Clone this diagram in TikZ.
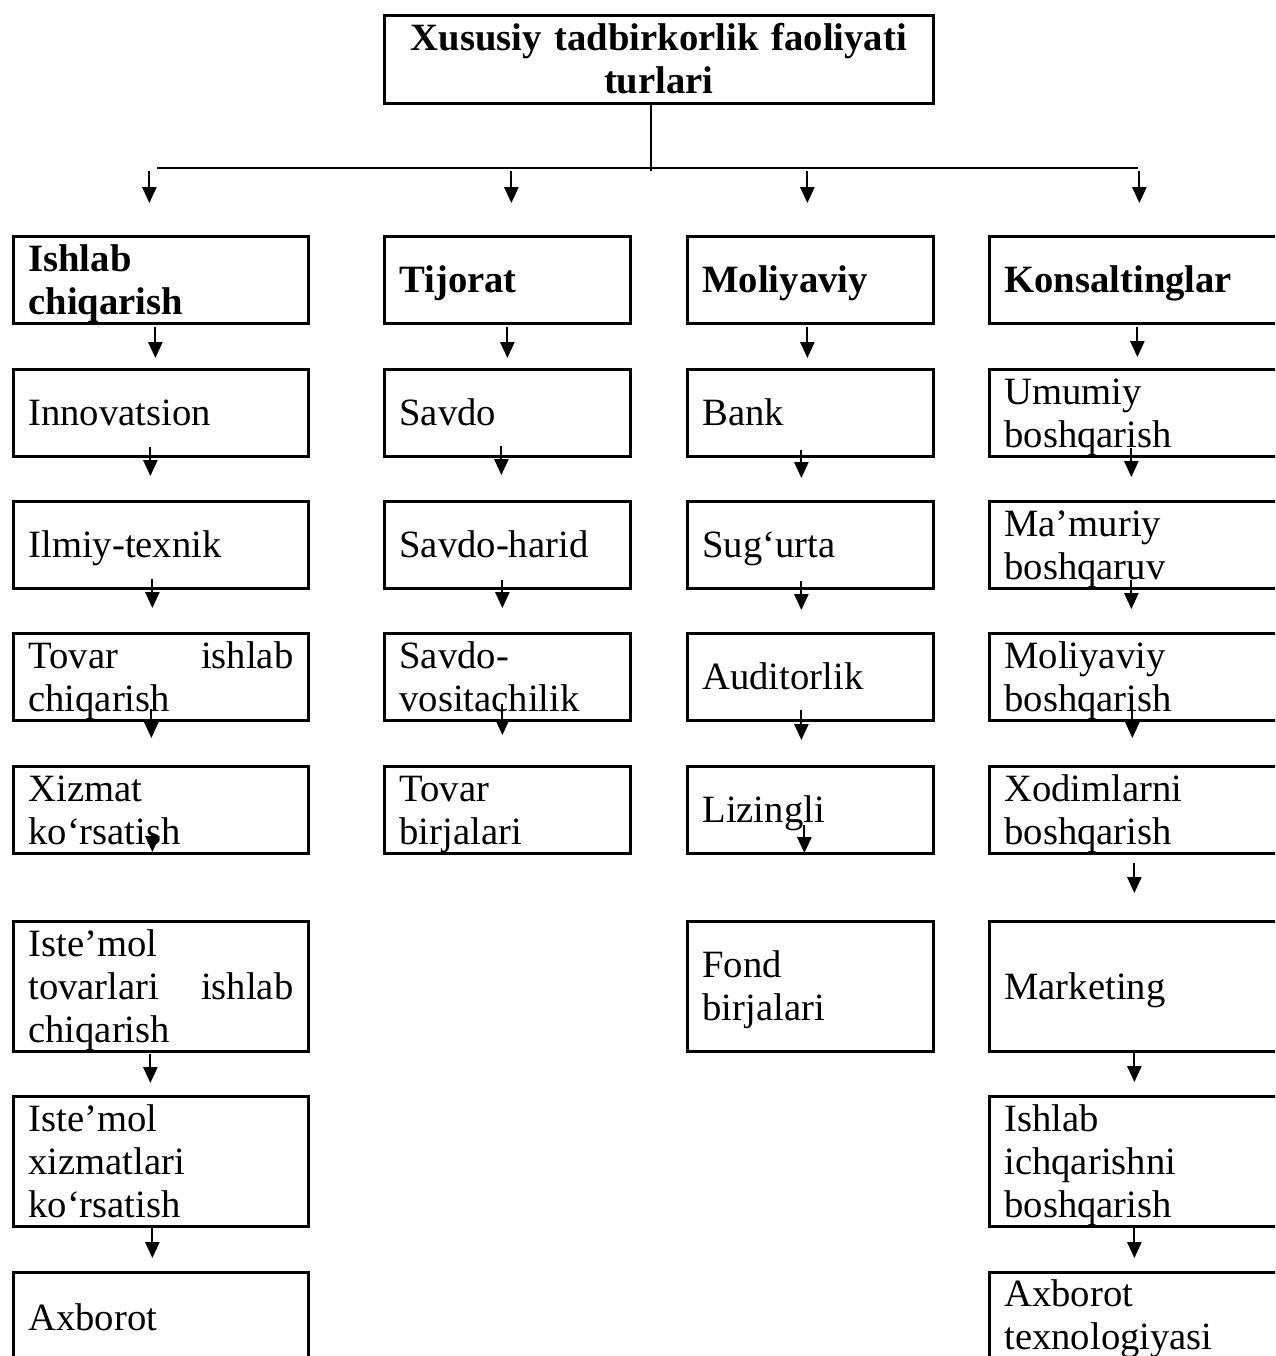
\documentclass[tikz,border=0pt]{standalone}
\usepackage{fontspec}
\setmainfont{Liberation Serif}
\usetikzlibrary{arrows.meta, calc, positioning}
\newcommand{\topstrut}{\rule{0pt}{19.4pt}}
\newcommand{\botstrut}{\rule[-5pt]{0pt}{0pt}}

\begin{document}
\begin{tikzpicture}[x=0.02cm, y=-0.02cm,
        box/.style={draw, line width=1.6pt, rectangle, anchor=north west, inner xsep=0.3cm, inner ysep=0pt,
            align=left, font=\fontsize{22}{24.5}\selectfont,
            execute at begin node=\topstrut, execute at end node=\botstrut},
        wbox/.style={box, minimum width=5.9cm, text width=5.3cm},
        nbox/.style={box, minimum width=4.92cm, text width=4.32cm},
        low/.style={minimum height=1.75cm},
        high/.style={minimum height=2.6cm},
        last/.style={minimum height=1.8cm},
        head/.style={font=\fontsize{22}{24.5}\selectfont\bfseries},
        arr/.style={line width=1.1pt, -{Triangle[length=9pt, width=8pt]}},
        bar/.style={line width=1.1pt}]
                    \useasboundingbox (0,0) rectangle (1275,1356);
                    \clip (0,0) rectangle (1275,1356);

                    \node[box, head, minimum width=10.98cm, text width=10.38cm, minimum height=1.76cm, align=center] (turlar) at (383, 14) {Xususiy tadbirkorlik faoliyati\\turlari};

                    % ishlab chiqarish
                    \node[wbox, low, head] (ishlab) at (12, 235) {Ishlab\\chiqarish};
                    \node[wbox, low] (innov) at (12, 368) {Innovatsion};
                    \node[wbox, low] (ilmiy) at (12, 500) {Ilmiy-texnik};
                    \node[wbox, low] (tovar) at (12, 632) {Tovar\hfill ishlab\\chiqarish};
                    \node[wbox, low] (xizmat) at (12, 765) {Xizmat\\ko‘rsatish};
                    \node[wbox, high] (isttov) at (12, 920) {Iste’mol\\tovarlari\hfill ishlab\\chiqarish};
                    \node[wbox, high] (istxiz) at (12, 1095) {Iste’mol\\xizmatlari\\ko‘rsatish};
                    \node[wbox, last] (axbA) at (12, 1271) {Axborot};

                    % tijorat
                    \node[nbox, low, head] (tijorat) at (383, 235) {Tijorat};
                    \node[nbox, low] (savdo) at (383, 368) {Savdo};
                    \node[nbox, low] (savharid) at (383, 500) {Savdo-harid};
                    \node[nbox, low] (savvos) at (383, 632) {Savdo-\\vositachilik};
                    \node[nbox, low] (birja) at (383, 765) {Tovar\\birjalari};

                    % moliyaviy
                    \node[nbox, low, head] (moliya) at (686, 235) {Moliyaviy};
                    \node[nbox, low] (bank) at (686, 368) {Bank};
                    \node[nbox, low] (sugurta) at (686, 500) {Sug‘urta};
                    \node[nbox, low] (audit) at (686, 632) {Auditorlik};
                    \node[nbox, low] (lizing) at (686, 765) {Lizingli};
                    \node[nbox, high] (fond) at (686, 920) {Fond\\birjalari};

                    % konsaltinglar
                    \node[wbox, low, head] (konsalt) at (988, 235) {Konsaltinglar};
                    \node[wbox, low] (umumiy) at (988, 368) {Umumiy\\boshqarish};
                    \node[wbox, low] (mamuriy) at (988, 500) {Ma’muriy\\boshqaruv};
                    \node[wbox, low] (molbosh) at (988, 632) {Moliyaviy\\boshqarish};
                    \node[wbox, low] (xodim) at (988, 765) {Xodimlarni\\boshqarish};
                    \node[wbox, high] (market) at (988, 920) {Marketing};
                    \node[wbox, high] (ichqar) at (988, 1095) {Ishlab\\ichqarishni\\boshqarish};
                    \node[wbox, last, execute at end node={\rule[-10pt]{0pt}{0pt}}] (axbB) at (988, 1271) {Axborot\\texnologiyasi};

                    % bar
                    \coordinate (barL) at (157, 168);
                    \coordinate (barR) at (1138, 168);
                    \draw[bar] ($(turlar.south)+(-8,0)$) -- ($(turlar.south)+(-8,66)$);
                    \draw[bar] (barL) -- (barR);
                    \draw[arr] ($(ishlab.north)+(-11.5,-64)$) -- ($(ishlab.north)+(-11.5,-32)$);
                    \draw[arr] ($(tijorat.north)+(4,-64)$) -- ($(tijorat.north)+(4,-32)$);
                    \draw[arr] ($(moliya.north)+(-3,-64)$) -- ($(moliya.north)+(-3,-32)$);
                    \draw[arr] ($(konsalt.north)+(2.5,-64)$) -- ($(konsalt.north)+(2.5,-32)$);

                    \draw[arr] ($(ishlab.south)+(-5.5,2)$) -- ($(innov.north)+(-5.5,-10)$);
                    \draw[arr] ($(innov.south)+(-10.5,-11)$) -- ($(ilmiy.north)+(-10.5,-24)$);
                    \draw[arr] ($(ilmiy.south)+(-8.5,-11)$) -- ($(tovar.north)+(-8.5,-24)$);
                    \draw[arr] ($(tovar.south)+(-9.5,-13)$) -- ($(xizmat.north)+(-9.5,-27)$);
                    \draw[arr] ($(xizmat.south)+(-8.5,-22)$) -- ($(isttov.north)+(-8.5,-68)$);
                    \draw[arr] ($(isttov.south)+(-10.5,1)$) -- ($(istxiz.north)+(-10.5,-12)$);
                    \draw[arr] ($(istxiz.south)+(-8.5,0)$) -- ($(axbA.north)+(-8.5,-13)$);

                    \draw[arr] ($(tijorat.south)+(0,2)$) -- ($(savdo.north)+(0,-10)$);
                    \draw[arr] ($(savdo.south)+(-6,-12)$) -- ($(savharid.north)+(-6,-25)$);
                    \draw[arr] ($(savharid.south)+(-5,-10)$) -- ($(savvos.north)+(-5,-24)$);
                    \draw[arr] ($(savvos.south)+(-5,-18)$) -- ($(birja.north)+(-5,-30)$);

                    \draw[arr] ($(moliya.south)+(-3,2)$) -- ($(bank.north)+(-3,-10)$);
                    \draw[arr] ($(bank.south)+(-9,-8)$) -- ($(sugurta.north)+(-9,-22)$);
                    \draw[arr] ($(sugurta.south)+(-9,-9)$) -- ($(audit.north)+(-9,-22)$);
                    \draw[arr] ($(audit.south)+(-9,-12)$) -- ($(lizing.north)+(-9,-25)$);
                    \draw[arr] ($(lizing.south)+(-6,-30)$) -- ($(fond.north)+(-6,-67)$);

                    \draw[arr] ($(konsalt.south)+(0.5,2)$) -- ($(umumiy.north)+(0.5,-11)$);
                    \draw[arr] ($(umumiy.south)+(-5.5,-10)$) -- ($(mamuriy.north)+(-5.5,-23)$);
                    \draw[arr] ($(mamuriy.south)+(-5.5,-10)$) -- ($(molbosh.north)+(-5.5,-23)$);
                    \draw[arr] ($(molbosh.south)+(-4.5,-13)$) -- ($(xodim.north)+(-4.5,-27)$);
                    \draw[arr] ($(xodim.south)+(-2.5,8)$) -- ($(market.north)+(-2.5,-27)$);
                    \draw[arr] ($(market.south)+(-2.5,-2)$) -- ($(ichqar.north)+(-2.5,-13)$);
                    \draw[arr] ($(ichqar.south)+(-2.5,-1)$) -- ($(axbB.north)+(-2.5,-13)$);
            \end{tikzpicture}
\end{document}
